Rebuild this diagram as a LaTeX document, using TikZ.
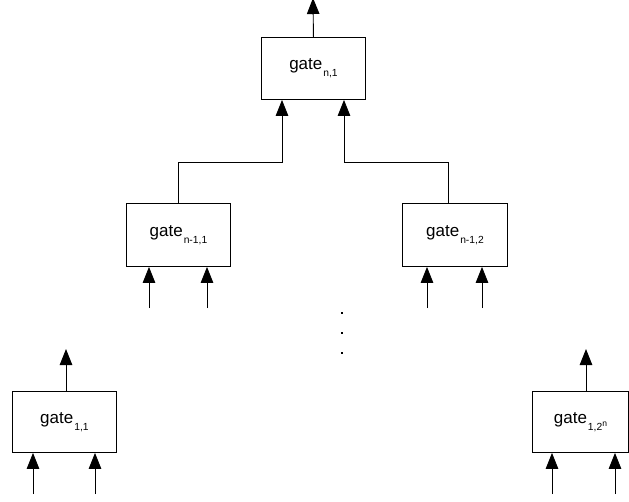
\documentclass[tikz,border=0pt]{standalone}
\usepackage{fontspec}
\setmainfont{Liberation Sans}
\usetikzlibrary{arrows.meta}
\newcommand\gsub[1]{\hspace{1pt}\raisebox{-7pt}{\fontsize{10.3}{12}\selectfont #1}}
\newcommand\gsup[1]{\raisebox{4pt}{\fontsize{8.5}{10}\selectfont #1}}
\begin{document}
\begin{tikzpicture}[x=1pt,y=-1pt,
  gatebox/.style={draw, line width=0.9pt, minimum width=104pt, minimum height=62pt, inner sep=0pt, font=\fontsize{17}{18}\selectfont, anchor=north west},
  arr/.style={line width=0.9pt, -{Triangle[length=16pt,width=12.5pt]}},
  wire/.style={line width=0.9pt}]
\useasboundingbox (0,0) rectangle (629,501);
% boxes
\node[gatebox] (T) at (261,37) {gate\gsub{n,1}};
\node[gatebox, minimum width=104pt, minimum height=63pt] (L) at (126,203) {gate\gsub{n-1,1}};
\node[gatebox, minimum width=105pt, minimum height=63pt] (R) at (402,203) {gate\gsub{n-1,2}};
\node[gatebox, minimum height=61pt] (BL) at (12,391) {gate\gsub{1,1}};
\node[gatebox, minimum width=96pt, minimum height=61pt] (BR) at (532,391) {gate\gsub{1,2\gsup{n}}};
% top output
\coordinate (tout) at (313,-2);
\draw[arr] (T.north) -- (tout);
% connectors into top
\coordinate (j1) at (282,162);
\coordinate (j2) at (344,162);
\coordinate (lo) at (178,203);
\coordinate (ro) at (448,203);
\draw[arr] (lo) |- (j1) -- (j1 |- T.south);
\draw[arr] (ro) |- (j2) -- (j2 |- T.south);
% inputs of middle boxes
\coordinate (l1) at (149,308);
\coordinate (l2) at (207,308);
\coordinate (r1) at (427,308);
\coordinate (r2) at (482,308);
\draw[arr] (l1) -- (l1 |- L.south);
\draw[arr] (l2) -- (l2 |- L.south);
\draw[arr] (r1) -- (r1 |- R.south);
\draw[arr] (r2) -- (r2 |- R.south);
% bottom boxes outputs
\coordinate (blo) at (66,349);
\coordinate (bro) at (586,349);
\draw[arr] (blo |- BL.north) -- (blo);
\draw[arr] (bro |- BR.north) -- (bro);
% bottom boxes inputs
\coordinate (b1) at (33,494);
\coordinate (b2) at (95,494);
\coordinate (b3) at (552,494);
\coordinate (b4) at (615,494);
\draw[arr] (b1) -- (b1 |- BL.south);
\draw[arr] (b2) -- (b2 |- BL.south);
\draw[arr] (b3) -- (b3 |- BR.south);
\draw[arr] (b4) -- (b4 |- BR.south);
% dots
\foreach \yy in {313,333,353} \fill (341,\yy-1.2) rectangle (343.2,\yy+1);
\end{tikzpicture}
\end{document}
